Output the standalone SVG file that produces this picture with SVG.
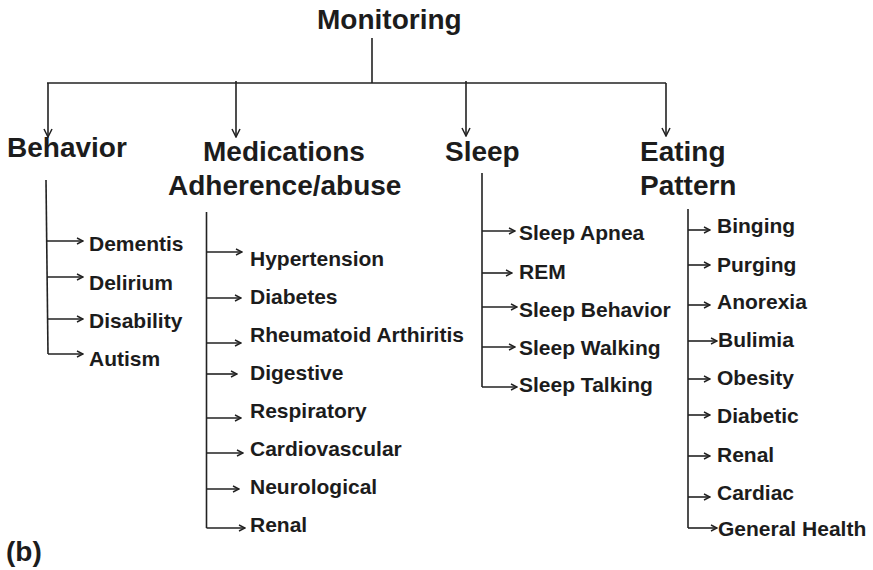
<svg xmlns="http://www.w3.org/2000/svg" width="873" height="570" viewBox="0 0 873 570">
  <style>
    .head { font-family: "Liberation Sans", Arial, sans-serif; font-weight: bold; font-size: 28px; fill: #1c1c1c; }
    .item { font-family: "Liberation Sans", Arial, sans-serif; font-weight: bold; font-size: 21px; fill: #1c1c1c; }
    .line { fill: none; stroke: #222; stroke-width: 1.6; }
    .down { marker-end: url(#bigArrow); }
    .branch { marker-end: url(#smallArrow); }
  </style>
  <defs>
    <marker id="bigArrow" viewBox="0 0 10 10" refX="9" refY="5" markerWidth="10" markerHeight="10" markerUnits="userSpaceOnUse" orient="auto">
      <path d="M1,1 L9,5 L1,9" fill="none" stroke="#222" stroke-width="1.5"/>
    </marker>
    <marker id="smallArrow" viewBox="0 0 8 8" refX="7" refY="4" markerWidth="8" markerHeight="8" markerUnits="userSpaceOnUse" orient="auto">
      <path d="M1,1 L7,4 L1,7" fill="none" stroke="#222" stroke-width="1.4"/>
    </marker>
  </defs>

  <rect width="873" height="570" fill="#ffffff"/>

  <!-- connectors -->
  <g id="connectors">
    <!-- root trunk and bus -->
    <path class="line" d="M372,38 V83"/>
    <path class="line" d="M47,83 H666"/>
    <path class="line down" d="M48,83 V137"/>
    <path class="line down" d="M236,81 V137"/>
    <path class="line down" d="M466,81 V136"/>
    <path class="line down" d="M666,83 V136"/>

    <!-- Behavior branches -->
    <path class="line" d="M46,180 L48,354"/>
    <path class="line branch" d="M47,241 H83"/>
    <path class="line branch" d="M47,277 H83"/>
    <path class="line branch" d="M48,319 H83"/>
    <path class="line branch" d="M48,354 H83"/>

    <!-- Medications branches -->
    <path class="line" d="M206.5,212 V528"/>
    <path class="line branch" d="M206.5,252 H242"/>
    <path class="line branch" d="M206.5,298 H241"/>
    <path class="line branch" d="M206.5,343 H241"/>
    <path class="line branch" d="M206.5,374 H237"/>
    <path class="line branch" d="M206.5,418 H241"/>
    <path class="line branch" d="M206.5,453 H243"/>
    <path class="line branch" d="M206.5,489 H239"/>
    <path class="line branch" d="M206.5,528 H245"/>

    <!-- Sleep branches -->
    <path class="line" d="M482,173 V387"/>
    <path class="line branch" d="M482,231 H515"/>
    <path class="line branch" d="M482,273 H512"/>
    <path class="line branch" d="M482,307 H517"/>
    <path class="line branch" d="M482,347 H515"/>
    <path class="line branch" d="M482,387 H517"/>

    <!-- Eating Pattern branches -->
    <path class="line" d="M688,209 V528"/>
    <path class="line branch" d="M688,230 H710"/>
    <path class="line branch" d="M688,265 H710"/>
    <path class="line branch" d="M688,305 H710"/>
    <path class="line branch" d="M688,341 H717"/>
    <path class="line branch" d="M688,379 H710"/>
    <path class="line branch" d="M688,415 H710"/>
    <path class="line branch" d="M688,456 H710"/>
    <path class="line branch" d="M688,497 H710"/>
    <path class="line branch" d="M688,528 H717"/>
  </g>

  <!-- root -->
  <g id="monitoring"><text class="head" x="317" y="29">Monitoring</text></g>

  <!-- categories -->
  <g id="behavior"><text class="head" x="7" y="157">Behavior</text></g>
  <g id="medications">
    <text class="head" x="203" y="161">Medications</text>
    <text class="head" x="168" y="195">Adherence/abuse</text>
  </g>
  <g id="sleep"><text class="head" x="445" y="161">Sleep</text></g>
  <g id="eating-pattern">
    <text class="head" x="640" y="161">Eating</text>
    <text class="head" x="640" y="195">Pattern</text>
  </g>

  <!-- Behavior items -->
  <g id="dementis"><text class="item" x="89" y="251">Dementis</text></g>
  <g id="delirium"><text class="item" x="89" y="290">Delirium</text></g>
  <g id="disability"><text class="item" x="89" y="328">Disability</text></g>
  <g id="autism"><text class="item" x="89" y="366">Autism</text></g>

  <!-- Medications items -->
  <g id="hypertension"><text class="item" x="250" y="266">Hypertension</text></g>
  <g id="diabetes"><text class="item" x="250" y="304">Diabetes</text></g>
  <g id="rheumatoid-arthiritis"><text class="item" x="250" y="342">Rheumatoid Arthiritis</text></g>
  <g id="digestive"><text class="item" x="250" y="380">Digestive</text></g>
  <g id="respiratory"><text class="item" x="250" y="418">Respiratory</text></g>
  <g id="cardiovascular"><text class="item" x="250" y="456">Cardiovascular</text></g>
  <g id="neurological"><text class="item" x="250" y="494">Neurological</text></g>
  <g id="renal-med"><text class="item" x="250" y="532">Renal</text></g>

  <!-- Sleep items -->
  <g id="sleep-apnea"><text class="item" x="519" y="240">Sleep Apnea</text></g>
  <g id="rem"><text class="item" x="519" y="279">REM</text></g>
  <g id="sleep-behavior"><text class="item" x="519" y="317">Sleep Behavior</text></g>
  <g id="sleep-walking"><text class="item" x="519" y="355">Sleep Walking</text></g>
  <g id="sleep-talking"><text class="item" x="519" y="392">Sleep Talking</text></g>

  <!-- Eating Pattern items -->
  <g id="binging"><text class="item" x="717" y="233">Binging</text></g>
  <g id="purging"><text class="item" x="717" y="272">Purging</text></g>
  <g id="anorexia"><text class="item" x="717" y="309">Anorexia</text></g>
  <g id="bulimia"><text class="item" x="718" y="347">Bulimia</text></g>
  <g id="obesity"><text class="item" x="717" y="385">Obesity</text></g>
  <g id="diabetic"><text class="item" x="717" y="423">Diabetic</text></g>
  <g id="renal-eat"><text class="item" x="717" y="462">Renal</text></g>
  <g id="cardiac"><text class="item" x="717" y="500">Cardiac</text></g>
  <g id="general-health"><text class="item" x="718" y="536">General Health</text></g>

  <!-- panel label -->
  <text class="head" x="6" y="561">(b)</text>
</svg>
